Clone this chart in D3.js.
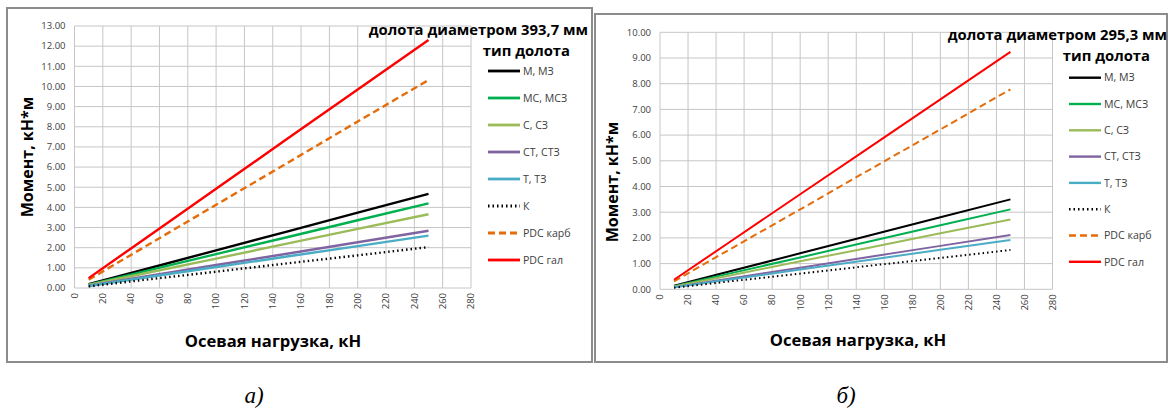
<!DOCTYPE html>
<html>
<head>
<meta charset="utf-8">
<script src="https://cdn.jsdelivr.net/npm/d3@7"></script>
<style>
  body { margin: 0; background: #fff; }
  svg text { font-family: "Open Sans", "Noto Sans", sans-serif; }
</style>
</head>
<body>
<div id="chart"></div>
<script>
const WIDTH = 1171;
const HEIGHT = 410;

// Data
const loads = [10, 50, 100, 150, 200, 250];
const seriesNames = ["М, МЗ", "МС, МСЗ", "С, СЗ", "СТ, СТЗ", "Т, ТЗ", "К", "PDC карб", "PDC гал"];
const xTicks = [0, 20, 40, 60, 80, 100, 120, 140, 160, 180, 200, 220, 240, 260, 280];
const yTicks393 = d3.range(0, 14);
const yTicks295 = d3.range(0, 11);

// moment, kN*m — bit 393.7 mm
const moment393 = [
  [0.19, 0.93, 1.87, 2.80, 3.74, 4.67],
  [0.17, 0.84, 1.68, 2.52, 3.36, 4.20],
  [0.15, 0.73, 1.46, 2.20, 2.93, 3.66],
  [0.11, 0.57, 1.14, 1.70, 2.27, 2.84],
  [0.10, 0.52, 1.04, 1.56, 2.08, 2.60],
  [0.08, 0.41, 0.81, 1.22, 1.62, 2.03],
  [0.41, 2.06, 4.13, 6.19, 8.26, 10.32],
  [0.49, 2.46, 4.92, 7.39, 9.85, 12.31]
];
// moment, kN*m — bit 295.3 mm
const moment295 = [
  [0.14, 0.70, 1.40, 2.10, 2.80, 3.50],
  [0.12, 0.62, 1.24, 1.87, 2.49, 3.11],
  [0.11, 0.54, 1.09, 1.63, 2.18, 2.72],
  [0.08, 0.42, 0.84, 1.27, 1.69, 2.11],
  [0.08, 0.38, 0.77, 1.15, 1.54, 1.92],
  [0.06, 0.31, 0.61, 0.92, 1.22, 1.53],
  [0.31, 1.56, 3.11, 4.67, 6.22, 7.78],
  [0.37, 1.85, 3.70, 5.54, 7.39, 9.24]
];

// line styles per series
const colors = ["#000000", "#00b050", "#9bbb59", "#8064a2", "#4bacc6", "#000000", "#e46c0a", "#ff0000"];
const dashes = [null, null, null, null, null, "1.5,3", "7,4", null];

const svg = d3.select("#chart").append("svg")
  .attr("width", WIDTH)
  .attr("height", HEIGHT);

const panels = [
  {
    values: moment393, yTicks: yTicks393, yMax: 13,
    frame: [7, 8, 585, 354],
    plot: { left: 74.5, right: 471, top: 26, bottom: 288 },
    title: "долота диаметром 393,7 мм", titleX: 588, titleY: 35,
    legendTitleX: 570, legendTitleY: 56,
    legendX: 488, legendY: 71, legendStep: 27,
    yTitleX: 27, yTitleY: 157, xTitleX: 273, xTitleY: 347,
    lineWidth: 2.4, caption: "а)", captionX: 254
  },
  {
    values: moment295, yTicks: yTicks295, yMax: 10,
    frame: [595, 14, 572, 348],
    plot: { left: 660, right: 1052.5, top: 32.3, bottom: 289.3 },
    title: "долота диаметром 295,3 мм", titleX: 1167, titleY: 40,
    legendTitleX: 1150, legendTitleY: 61,
    legendX: 1069, legendY: 77.7, legendStep: 26.3,
    yTitleX: 612, yTitleY: 182, xTitleX: 858, xTitleY: 346,
    lineWidth: 2, caption: "б)", captionX: 846
  }
];

panels.forEach(p => {
  const g = svg.append("g");

  g.append("rect")
    .attr("x", p.frame[0]).attr("y", p.frame[1])
    .attr("width", p.frame[2]).attr("height", p.frame[3])
    .attr("fill", "#fff")
    .attr("stroke", "#8c8c8c")
    .attr("stroke-width", 2);

  const x = d3.scaleLinear().domain([0, 280]).range([p.plot.left, p.plot.right]);
  const y = d3.scaleLinear().domain([0, p.yMax]).range([p.plot.bottom, p.plot.top]);

  // grid
  g.append("g").selectAll("line.h").data(p.yTicks).enter().append("line")
    .attr("x1", p.plot.left).attr("x2", p.plot.right)
    .attr("y1", d => y(d)).attr("y2", d => y(d))
    .attr("stroke", "#c6c6c6").attr("stroke-width", 1);
  g.append("g").selectAll("line.v").data(xTicks).enter().append("line")
    .attr("x1", d => x(d)).attr("x2", d => x(d))
    .attr("y1", p.plot.top).attr("y2", p.plot.bottom)
    .attr("stroke", "#c6c6c6").attr("stroke-width", 1);

  // y tick labels
  g.append("g").selectAll("text").data(p.yTicks).enter().append("text")
    .attr("x", p.plot.left - 9)
    .attr("y", d => y(d))
    .attr("dy", "0.35em")
    .attr("text-anchor", "end")
    .attr("font-size", 9.5)
    .attr("fill", "#404040")
    .text(d => d3.format(".2f")(d));

  // x tick labels (rotated)
  g.append("g").selectAll("text").data(xTicks).enter().append("text")
    .attr("transform", d => `translate(${x(d)}, ${p.plot.bottom + 5}) rotate(-90)`)
    .attr("dy", "0.35em")
    .attr("text-anchor", "end")
    .attr("font-size", 9.5)
    .attr("fill", "#404040")
    .text(d => d);

  // series lines
  const line = d3.line()
    .x((d, i) => x(loads[i]))
    .y(d => y(d));

  g.append("g").selectAll("path").data(p.values).enter().append("path")
    .attr("d", d => line(d))
    .attr("fill", "none")
    .attr("stroke", (d, i) => colors[i])
    .attr("stroke-width", p.lineWidth)
    .attr("stroke-dasharray", (d, i) => dashes[i]);

  // axis titles
  g.append("text")
    .attr("transform", `translate(${p.yTitleX}, ${p.yTitleY}) rotate(-90)`)
    .attr("text-anchor", "middle")
    .attr("dy", "0.35em")
    .attr("font-size", 16)
    .attr("font-weight", "bold")
    .attr("fill", "#000")
    .text("Момент, кН*м");

  g.append("text")
    .attr("x", p.xTitleX).attr("y", p.xTitleY)
    .attr("text-anchor", "middle")
    .attr("font-size", 16.6)
    .attr("font-weight", "bold")
    .attr("fill", "#000")
    .text("Осевая нагрузка, кН");

  // chart title and legend
  g.append("text")
    .attr("x", p.titleX).attr("y", p.titleY)
    .attr("text-anchor", "end")
    .attr("font-size", 14.8)
    .attr("font-weight", "bold")
    .attr("fill", "#000")
    .text(p.title);

  g.append("text")
    .attr("x", p.legendTitleX).attr("y", p.legendTitleY)
    .attr("text-anchor", "end")
    .attr("font-size", 14.8)
    .attr("font-weight", "bold")
    .attr("fill", "#000")
    .text("тип долота");

  const item = g.append("g").selectAll("g").data(seriesNames).enter().append("g")
    .attr("transform", (d, i) => `translate(${p.legendX}, ${p.legendY + i * p.legendStep})`);
  item.append("line")
    .attr("x1", 0).attr("x2", 32)
    .attr("stroke", (d, i) => colors[i])
    .attr("stroke-width", p.lineWidth + 0.4)
    .attr("stroke-dasharray", (d, i) => dashes[i]);
  item.append("text")
    .attr("x", 35)
    .attr("dy", "0.35em")
    .attr("font-size", 10.6)
    .attr("fill", "#404040")
    .text(d => d);

  // caption under the panel
  svg.append("text")
    .attr("x", p.captionX).attr("y", 403)
    .attr("text-anchor", "middle")
    .attr("font-style", "italic")
    .attr("font-size", 23)
    .attr("fill", "#000")
    .text(p.caption)
    .style("font-family", "'Liberation Serif', serif");
});
</script>
</body>
</html>
